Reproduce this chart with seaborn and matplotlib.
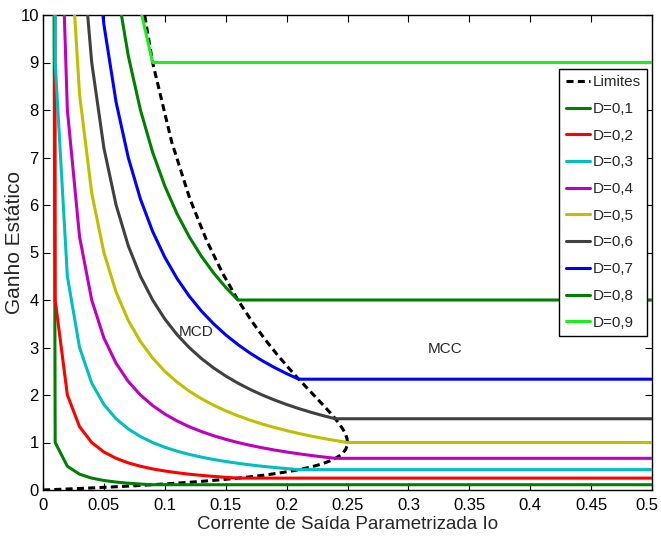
import matplotlib
matplotlib.use("Agg")
import matplotlib.pyplot as plt
import matplotlib.transforms as mtransforms
import seaborn as sns
import pandas as pd

# ---------------- data ----------------
# boundary between DCM and CCM ("Limites")
lim_io = [0, 0.0196, 0.0384, 0.0564, 0.0736, 0.09, 0.1056, 0.1204, 0.1344, 0.1476,
          0.16, 0.1716, 0.1824, 0.1924, 0.2016, 0.21, 0.2176, 0.2244, 0.2304, 0.2356,
          0.24, 0.2436, 0.2464, 0.2484, 0.2496, 0.25, 0.2496, 0.2484, 0.2464, 0.2436,
          0.24, 0.2356, 0.2304, 0.2244, 0.2176, 0.21, 0.2016, 0.1924, 0.1824, 0.1716,
          0.16, 0.1476, 0.1344, 0.1204, 0.1056, 0.09, 0.0736]
lim_gain = [0, 0.0204, 0.0417, 0.0638, 0.0870, 0.1111, 0.1364, 0.1628, 0.1905, 0.2195,
            0.25, 0.2821, 0.3158, 0.3514, 0.3889, 0.4286, 0.4706, 0.5152, 0.5625, 0.6129,
            0.6667, 0.7241, 0.7857, 0.8519, 0.9231, 1.0, 1.0833, 1.1739, 1.2727, 1.3810,
            1.5, 1.6316, 1.7778, 1.9412, 2.125, 2.3333, 2.5714, 2.8462, 3.1667, 3.5455,
            4.0, 4.5556, 5.25, 6.1429, 7.3333, 9.0, 11.5]

io_d01 = [0.0001, 0.01, 0.02, 0.03, 0.04, 0.05, 0.06, 0.07, 0.08, 0.09, 0.5]
g_d01 = [100, 1.0, 0.5, 0.333, 0.25, 0.2, 0.167, 0.143, 0.125, 0.111, 0.111]

io_d02 = [0.0001, 0.01, 0.02, 0.03, 0.04, 0.05, 0.06, 0.07, 0.08, 0.09, 0.10, 0.11,
          0.12, 0.13, 0.14, 0.15, 0.16, 0.5]
g_d02 = [400, 4.0, 2.0, 1.333, 1.0, 0.8, 0.667, 0.571, 0.5, 0.444, 0.4, 0.364,
         0.333, 0.308, 0.286, 0.267, 0.25, 0.25]

io_d03 = [0.0001, 0.01, 0.02, 0.03, 0.04, 0.05, 0.06, 0.07, 0.08, 0.09, 0.10, 0.11,
          0.12, 0.13, 0.14, 0.15, 0.16, 0.17, 0.18, 0.19, 0.20, 0.21, 0.5]
g_d03 = [900, 9.0, 4.5, 3.0, 2.25, 1.8, 1.5, 1.286, 1.125, 1.0, 0.9, 0.818,
         0.75, 0.692, 0.643, 0.6, 0.5625, 0.529, 0.5, 0.474, 0.45, 0.429, 0.429]

io_d04 = [0.01, 0.02, 0.03, 0.04, 0.05, 0.06, 0.07, 0.08, 0.09, 0.10, 0.11, 0.12,
          0.13, 0.14, 0.15, 0.16, 0.17, 0.18, 0.19, 0.20, 0.21, 0.22, 0.23, 0.24, 0.5]
g_d04 = [16.0, 8.0, 5.333, 4.0, 3.2, 2.667, 2.286, 2.0, 1.778, 1.6, 1.455, 1.333,
         1.231, 1.143, 1.067, 1.0, 0.941, 0.889, 0.842, 0.8, 0.762, 0.727, 0.696, 0.667, 0.667]

io_d05 = [0.02, 0.03, 0.04, 0.05, 0.06, 0.07, 0.08, 0.09, 0.10, 0.11, 0.12, 0.13,
          0.14, 0.15, 0.16, 0.17, 0.18, 0.19, 0.20, 0.21, 0.22, 0.23, 0.24, 0.25, 0.5]
g_d05 = [12.5, 8.333, 6.25, 5.0, 4.167, 3.571, 3.125, 2.778, 2.5, 2.273, 2.083, 1.923,
         1.786, 1.667, 1.5625, 1.471, 1.389, 1.316, 1.25, 1.190, 1.136, 1.087, 1.042, 1.0, 1.0]

io_d06 = [0.03, 0.04, 0.05, 0.06, 0.07, 0.08, 0.09, 0.10, 0.11, 0.12, 0.13, 0.14,
          0.15, 0.16, 0.17, 0.18, 0.19, 0.20, 0.21, 0.22, 0.23, 0.24, 0.5]
g_d06 = [12.0, 9.0, 7.2, 6.0, 5.143, 4.5, 4.0, 3.6, 3.273, 3.0, 2.769, 2.571,
         2.4, 2.25, 2.118, 2.0, 1.895, 1.8, 1.714, 1.636, 1.565, 1.5, 1.5]

io_d07 = [0.04, 0.05, 0.06, 0.07, 0.08, 0.09, 0.10, 0.11, 0.12, 0.13, 0.14, 0.15,
          0.16, 0.17, 0.18, 0.19, 0.20, 0.21, 0.5]
g_d07 = [12.25, 9.8, 8.167, 7.0, 6.125, 5.444, 4.9, 4.455, 4.083, 3.769, 3.5, 3.267,
         3.0625, 2.882, 2.722, 2.579, 2.45, 2.333, 2.333]

io_d08 = [0.06, 0.07, 0.08, 0.09, 0.10, 0.11, 0.12, 0.13, 0.14, 0.15, 0.16, 0.5]
g_d08 = [10.667, 9.143, 8.0, 7.111, 6.4, 5.818, 5.333, 4.923, 4.571, 4.267, 4.0, 4.0]

io_d09 = [0.08, 0.09, 0.5]
g_d09 = [10.125, 9.0, 9.0]

series_labels = ["D=0,1", "D=0,2", "D=0,3", "D=0,4", "D=0,5",
                 "D=0,6", "D=0,7", "D=0,8", "D=0,9"]
series_io = [io_d01, io_d02, io_d03, io_d04, io_d05, io_d06, io_d07, io_d08, io_d09]
series_gain = [g_d01, g_d02, g_d03, g_d04, g_d05, g_d06, g_d07, g_d08, g_d09]
series_colors = ["#008000", "#ff0000", "#00bfbf", "#bf00bf", "#bfbf00",
                 "#404040", "#0000ff", "#008000", "#1aef1a"]

x_ticks = [0, 0.05, 0.1, 0.15, 0.2, 0.25, 0.3, 0.35, 0.4, 0.45, 0.5]
x_ticklabels = ["0", "0.05", "0.1", "0.15", "0.2", "0.25", "0.3", "0.35", "0.4", "0.45", "0.5"]
y_ticks = [0, 1, 2, 3, 4, 5, 6, 7, 8, 9, 10]
y_ticklabels = ["0", "1", "2", "3", "4", "5", "6", "7", "8", "9", "10"]

# ---------------- plotting ----------------
sns.set_theme(style="white")
plt.rcParams["font.family"] = ["Liberation Sans", "DejaVu Sans"]

fig = plt.figure(figsize=(6.61, 5.44), dpi=100)
ax = fig.add_axes([43 / 661, 54 / 544, 609 / 661, 475 / 544])

LW = 2.2
lim_df = pd.DataFrame({"io": lim_io, "gain": lim_gain})
sns.lineplot(data=lim_df, x="io", y="gain", sort=False, estimator=None, ax=ax,
             color="black", linewidth=LW, label="Limites", zorder=2)
ax.lines[-1].set_linestyle((0, (2.3, 1.4)))

for lab, xs, ys, col in zip(series_labels, series_io, series_gain, series_colors):
    df = pd.DataFrame({"io": xs, "gain": ys})
    sns.lineplot(data=df, x="io", y="gain", sort=False, estimator=None, ax=ax,
                 color=col, linewidth=LW, label=lab, zorder=3)

ax.set_xlim(0, 0.5)
ax.set_ylim(0, 10)
ax.set_xticks(x_ticks)
ax.set_xticklabels(x_ticklabels)
ax.set_yticks(y_ticks)
ax.set_yticklabels(y_ticklabels)
ax.tick_params(axis="both", direction="in", length=5, width=0.8, labelsize=12,
               top=True, right=True, bottom=True, left=True, colors="black")
ax.tick_params(axis="x", pad=6)
ax.tick_params(axis="y", pad=3)
for s in ax.spines.values():
    s.set_color("black")
    s.set_linewidth(1.0)

# shift the last x tick label slightly left so it stays inside the figure
last = ax.get_xticklabels()[-1]
last.set_transform(last.get_transform() +
                   mtransforms.ScaledTranslation(-5 / 100, 0, fig.dpi_scale_trans))

ax.set_xlabel("Corrente de Saída Parametrizada Io", fontsize=13.5, labelpad=2)
ax.set_ylabel("Ganho Estático", fontsize=15)
ax.yaxis.set_label_coords(-28 / 609, 0.52)
ax.yaxis.label.set_va("center")

ax.text(0.1256, 3.33, "MCD", fontsize=11, ha="center", va="center")
ax.text(0.33, 2.97, "MCC", fontsize=11, ha="center", va="center")

leg = ax.legend(loc="upper right", bbox_to_anchor=(1 - 5 / 609, 1 - 54 / 475),
                borderaxespad=0, fontsize=11, frameon=True, fancybox=False,
                edgecolor="black", framealpha=1, handlelength=1.6,
                handletextpad=0.15, labelspacing=0.83, borderpad=0.42)
leg.get_frame().set_linewidth(1.0)

fig.savefig("out.png", dpi=100)
